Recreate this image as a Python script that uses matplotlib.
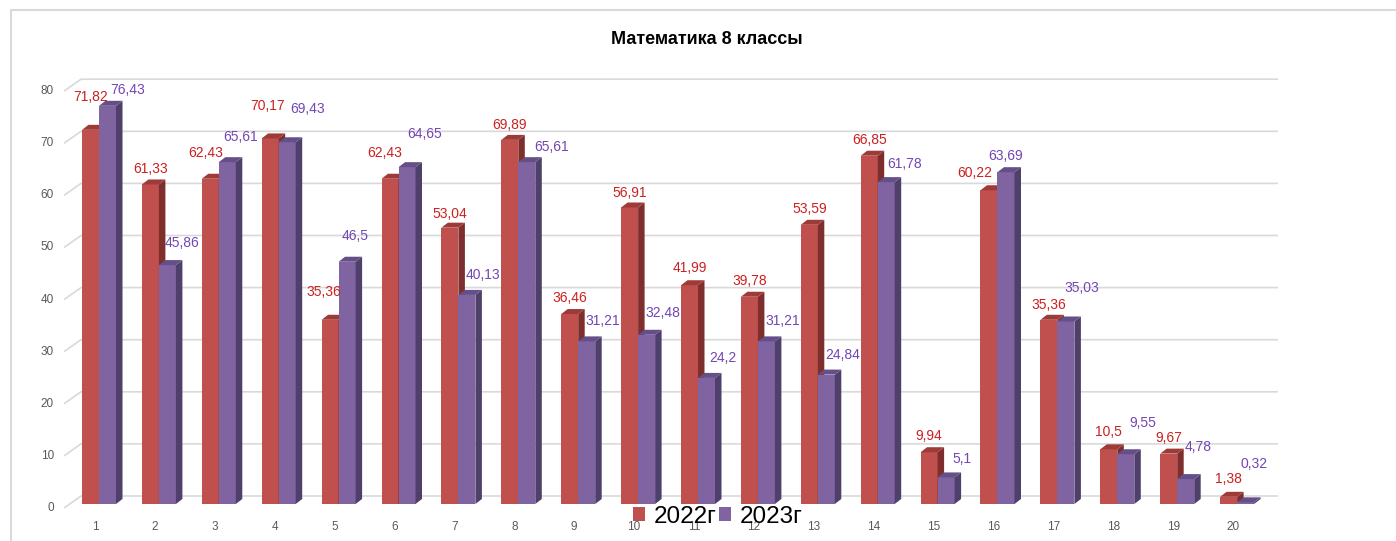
import matplotlib
matplotlib.use("Agg")
import matplotlib.pyplot as plt
from matplotlib.patches import Polygon, Patch
import numpy as np

plt.rcParams["font.family"] = ["Liberation Sans", "DejaVu Sans"]

# data
categories = [str(i) for i in range(1, 21)]
vals_2022 = [71.82, 61.33, 62.43, 70.17, 35.36, 62.43, 53.04, 69.89, 36.46, 56.91,
             41.99, 39.78, 53.59, 66.85, 9.94, 60.22, 35.36, 10.5, 9.67, 1.38]
vals_2023 = [76.43, 45.86, 65.61, 69.43, 46.5, 64.65, 40.13, 65.61, 31.21, 32.48,
             24.2, 31.21, 24.84, 61.78, 5.1, 63.69, 35.03, 9.55, 4.78, 0.32]
series_names = ["2022г", "2023г"]
y_ticks = [0, 10, 20, 30, 40, 50, 60, 70, 80]

# label offsets in pixels (dx, dy) from front top centre of each bar
off_2022 = [(0, 33), (0, 15), (-5, 26), (-3, 32), (-6, 28), (-5, 26), (0, 14), (0, 15),
            (0, 16), (0, 14), (0, 17), (0, 16), (0, 16), (0, 16), (0, 16), (-14, 17),
            (0, 15), (0, 17), (0, 16), (0, 18)]
off_2023 = [(20, 16), (15, 22), (13, 25), (20, 33), (8, 26), (18, 33), (16, 20), (25, 15),
            (16, 20), (16, 22), (16, 20), (16, 20), (16, 20), (18, 18), (16, 18), (0, 16),
            (16, 33), (17, 31), (12, 32), (8, 38)]

W, H = 1396, 541
fig = plt.figure(figsize=(W / 100, H / 100), dpi=100)
ax = fig.add_axes([0, 0, 1, 1])
ax.axis("off")

# pixel mapping: category 1 at px 99, step 59.9; value 0 at py 504, 5.21 px per unit
step, x0 = 59.9, 99
ppu, y0 = 5.21, 504
ax.set_xlim(1 - x0 / step, 1 + (W - x0) / step)
ax.set_ylim(-(H - y0) / ppu, y0 / ppu)

red_front, red_top, red_side = "#C0504D", "#9E3B38", "#7E2E2C"
pur_front, pur_top, pur_side = "#8064A2", "#654F88", "#4F3F6B"
red_text, pur_text = "#CC2020", "#7345B5"

# walls / gridlines
gx_front, gx_back, gx_end = 1 - 35 / step, 1 - 18 / step, 1 + 1179 / step
dy_front, dy_back = -4 / ppu, 8 / ppu
for v in y_ticks:
    ax.plot([gx_front, gx_back, gx_end], [v + dy_front, v + dy_back, v + dy_back],
            color="#D9D9D9", lw=1.2, zorder=1, solid_capstyle="butt")
    ax.text(1 - 45 / step, v + dy_front, str(v), ha="right", va="center",
            fontsize=8.5, color="#595959")

x = np.arange(1, len(categories) + 1)
w = 17 / step
ddx, ddy = 6.5 / step, 5 / ppu


def draw_bar(left, h, front, top, side, z):
    ax.bar(left, h, width=w, align="edge", color=front, zorder=z, linewidth=0)
    r = left + w
    ax.add_patch(Polygon([(r, 0), (r + ddx, ddy), (r + ddx, h + ddy), (r, h)],
                         closed=True, facecolor=side, edgecolor="none", zorder=z))
    ax.add_patch(Polygon([(left, h), (r, h), (r + ddx, h + ddy), (left + ddx, h + ddy)],
                         closed=True, facecolor=top, edgecolor="none", zorder=z))


for i in range(len(categories)):
    draw_bar(x[i] - w, vals_2022[i], red_front, red_top, red_side, 3)
    draw_bar(x[i], vals_2023[i], pur_front, pur_top, pur_side, 4)

for i in range(len(categories)):
    for vals, offs, col, cx in ((vals_2022, off_2022, red_text, x[i] - w / 2),
                                (vals_2023, off_2023, pur_text, x[i] + w / 2)):
        ax.annotate(f"{vals[i]:g}".replace(".", ","), xy=(cx, vals[i]),
                    xytext=offs[i], textcoords="offset pixels",
                    ha="center", va="center", fontsize=10, color=col, zorder=6)
    ax.text(x[i] - 4 / step, -23 / ppu, categories[i], ha="center", va="center",
            fontsize=8.5, color="#595959")

# chart border
ax.plot([1 - (x0 - 11) / step, 1 - (x0 - 11) / step, 1 + (W - x0) / step],
        [-(H - y0) / ppu, (y0 - 10) / ppu, (y0 - 10) / ppu],
        color="#D9D9D9", lw=1.5, zorder=0)

fig.text(707 / W, 1 - 40 / H, "Математика 8 классы", ha="center", va="center",
         fontsize=13, fontweight="bold", color="#000000")

handles = [Patch(facecolor=red_front, edgecolor="none"),
           Patch(facecolor=pur_front, edgecolor="none")]
fig.legend(handles, series_names, loc="center", bbox_to_anchor=(718 / W, 1 - 517 / H),
           ncol=2, frameon=False, fontsize=17.5, handlelength=0.5, handleheight=0.5,
           handletextpad=0.35, columnspacing=0.1, borderpad=0)

fig.savefig("out.png", dpi=100)
